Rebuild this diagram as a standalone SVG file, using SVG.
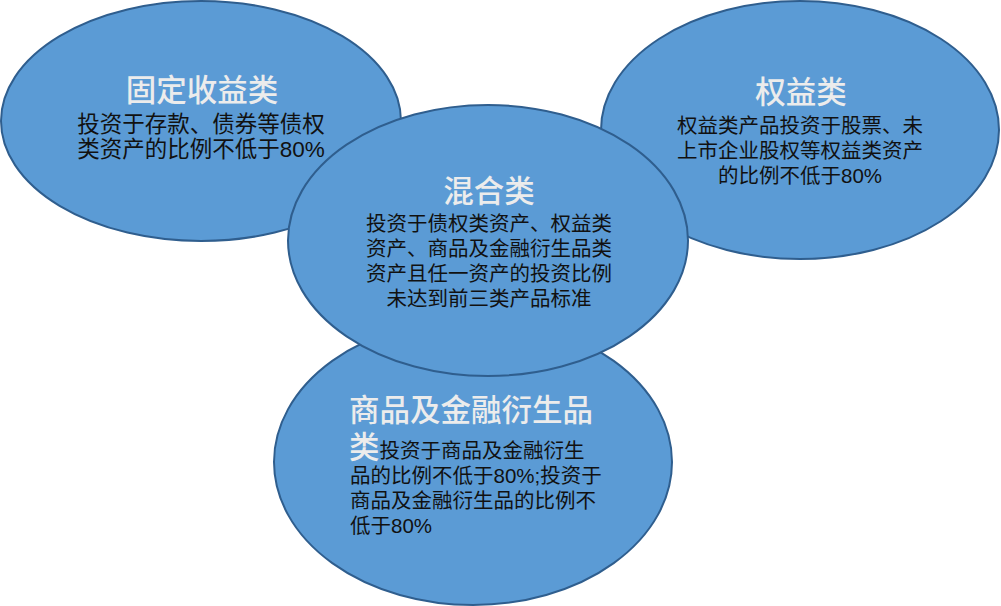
<svg xmlns="http://www.w3.org/2000/svg" width="1001" height="606" viewBox="0 0 1001 606">
<style>
.e{fill:#5B9BD5;stroke:#2F5E8E;stroke-width:2}
.t{font-family:"Liberation Serif","Noto Sans CJK SC",serif;font-size:30.5px;fill:#ECECEC;font-weight:500}
.b{font-family:"Liberation Sans","Noto Sans CJK SC",sans-serif;font-size:20.5px;fill:#111}
.c{text-anchor:middle}
</style>
<rect width="1001" height="606" fill="#fff"/>
<g id="connectors"></g>
<g id="fixed">
<ellipse class="e" cx="201" cy="121" rx="200" ry="120"/>
<text class="t c" x="202" y="101">固定收益类</text>
<text class="b c" x="201" y="132" style="font-size:22.5px">投资于存款、债券等债权</text>
<text class="b c" x="201" y="157" style="font-size:22.5px">类资产的比例不低于80%</text>
</g>
<g id="equity">
<ellipse class="e" cx="800" cy="130" rx="199" ry="129"/>
<text class="t c" x="801" y="103">权益类</text>
<text class="b c" x="800" y="133">权益类产品投资于股票、未</text>
<text class="b c" x="800" y="158">上市企业股权等权益类资产</text>
<text class="b c" x="800" y="183">的比例不低于80%</text>
</g>
<g id="commodity">
<ellipse class="e" cx="473" cy="462" rx="199" ry="143"/>
<text class="t" x="349" y="421">商品及金融衍生品</text>
<text x="349" y="458"><tspan class="t">类</tspan><tspan class="b">投资于商品及金融衍生</tspan></text>
<text class="b" x="350" y="483">品的比例不低于80%;投资于</text>
<text class="b" x="350" y="508">商品及金融衍生品的比例不</text>
<text class="b" x="350" y="533">低于80%</text>
</g>
<g id="mixed">
<ellipse class="e" cx="488" cy="240.5" rx="200" ry="135.5"/>
<text class="t c" x="489" y="202">混合类</text>
<text class="b c" x="489" y="231">投资于债权类资产、权益类</text>
<text class="b c" x="489" y="256">资产、商品及金融衍生品类</text>
<text class="b c" x="489" y="281">资产且任一资产的投资比例</text>
<text class="b c" x="489" y="306">未达到前三类产品标准</text>
</g>
</svg>
